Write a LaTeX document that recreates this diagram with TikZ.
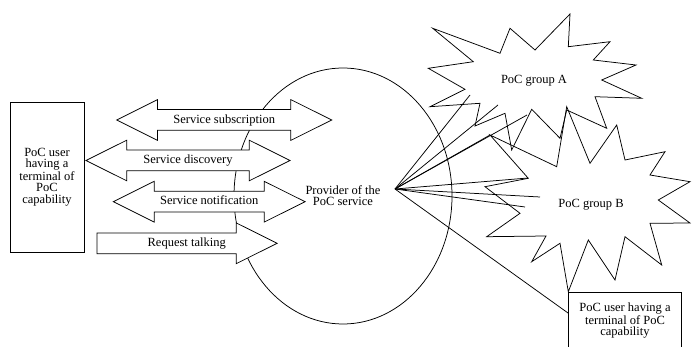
\documentclass[tikz,border=0pt]{standalone}
\usepackage{fontspec}
\setmainfont{Liberation Serif}
\usetikzlibrary{shapes.geometric,shapes.arrows}

\tikzset{
  msg/.style={draw, fill=white, double arrow, double arrow head extend=8pt,
    double arrow tip angle=53, text height=7pt, text depth=2pt,
    inner xsep=0pt, inner ysep=3.5pt, minimum width=0pt},
  req/.style={draw, fill=white, single arrow, single arrow head extend=8pt,
    single arrow tip angle=53, text height=7pt, text depth=2pt,
    inner xsep=0pt, inner ysep=3.5pt, minimum width=0pt},
  userbox/.style={draw, align=center, inner sep=0pt},
}

\begin{document}
\begin{tikzpicture}[x=0.8pt, y=-0.8pt, line width=0.6pt, font=\fontsize{10}{9}\selectfont]
  \useasboundingbox (0,0) rectangle (692,347);
  \clip (0,0) rectangle (692,347);

  % users and provider
  \node[userbox, minimum width=59.2pt, minimum height=120pt] (userL) at (47,177)
        {PoC user\\having a\\terminal of\\PoC\\capability};
  \node[userbox, minimum width=90.7pt, minimum height=46.4pt] (userR) at (625,321)
        {PoC user having a\\terminal of PoC\\capability};
  \node[draw, ellipse, minimum width=174.4pt, minimum height=204.8pt,
        align=center, inner sep=0pt] (prov) at (343,196) {Provider of the\\PoC service};
  \coordinate (hub) at (395,189);

  % messages
  \node[msg, minimum height=172pt]   (subscr) at (224.2,120)   {Service subscription};
  \node[msg, minimum height=163.2pt] (discov) at (188,160.5)   {Service discovery};
  \node[msg, minimum height=153.4pt] (notif)  at (209.2,201.7) {Service notification};
  \node[req, minimum height=144pt]   (talk)   at (176.7,243.3) {\hspace*{16pt}Request talking};

  % groups
  \draw (432.7,28.3) -- (500,53.3) -- (510,28.3) -- (535,50) -- (570,14)
    -- (568.3,46.7) -- (610,41.7) -- (593.3,60) -- (636,65) -- (601.7,80)
    -- (641.7,98.3) -- (595,96.7) -- (606.7,128.3) -- (566.7,110) -- (560,138.3)
    -- (531.7,109.3) -- (511.7,150) -- (505,113.3) -- (475,126) -- (480,103.3)
    -- (430,106.7) -- (465,89.3) -- (428.3,68.3) -- (473.3,61.7) -- cycle;
  \node (grpA) at (534,81) {PoC group A};
  \draw (490,135) -- (556.7,166.7) -- (566.7,106.7) -- (590,163.3) -- (616.7,125)
    -- (625,160) -- (665,151.7) -- (650,175) -- (690,181.7) -- (658.3,200)
    -- (690,223) -- (650,223.3) -- (661.7,265) -- (625,236.7) -- (615,280)
    -- (588.3,240) -- (568.3,291.7) -- (560,243.3) -- (531.7,261.7) -- (546,236)
    -- (486.7,236.7) -- (520,213.3) -- (485,186.7) -- (528.3,178.3) -- cycle;
  \node (grpB) at (591,205) {PoC group B};

  % links from the provider
  \foreach \n/\x/\y in {1/470/95, 2/498/105, 3/527/115, 4/490/135,
                        5/528/178, 6/540/197, 7/525/207, 8/568/313}
    \coordinate (end\n) at (\x,\y);
  \foreach \n in {1,...,8}
    \draw (hub) -- (end\n);
\end{tikzpicture}
\end{document}
